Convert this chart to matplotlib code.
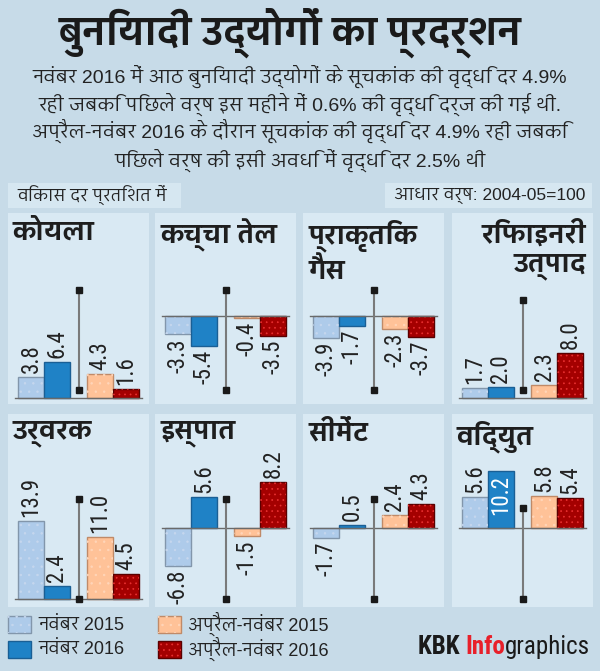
import matplotlib
matplotlib.use('Agg')
import matplotlib.pyplot as plt
from matplotlib import font_manager as fm
from matplotlib.ft2font import FT2Font
from matplotlib.patches import Rectangle

# ---------------- data ----------------
industries = ['कोयला', 'कच्चा तेल', 'प्राकृतिक\nगैस', 'रिफाइनरी\nउत्पाद',
              'उर्वरक', 'इस्पात', 'सीमेंट', 'विद्युत']
series_names = ['नवंबर 2015', 'नवंबर 2016', 'अप्रैल-नवंबर 2015', 'अप्रैल-नवंबर 2016']
nov2015 = [3.8, -3.3, -3.9, 1.7, 13.9, -6.8, -1.7, 5.6]
nov2016 = [6.4, -5.4, -1.7, 2.0, 2.4, 5.6, 0.5, 10.2]
aprnov2015 = [4.3, -0.4, -2.3, 2.3, 11.0, -1.5, 2.4, 5.8]
aprnov2016 = [1.6, -3.5, -3.7, 8.0, 4.5, 8.2, 4.3, 5.4]
title = 'बुनियादी उद्योगों का प्रदर्शन'
subtitle = ['नवंबर 2016 में आठ बुनियादी उद्योगों के सूचकांक की वृद्धि दर 4.9%',
            'रही जबकि पिछले वर्ष इस महीने में 0.6% की वृद्धि दर्ज की गई थी.',
            'अप्रैल-नवंबर 2016 के दौरान सूचकांक की वृद्धि दर 4.9% रही जबकि',
            'पिछले वर्ष की इसी अवधि में वृद्धि दर 2.5% थी']
unit_note = 'विकास दर प्रतिशत में'
base_note = 'आधार वर्ष: 2004-05=100'

# ---------------- fonts ----------------
available = {f.name for f in fm.fontManager.ttflist}


def find_deva():
    found = {}
    seen = set()
    for f in fm.fontManager.ttflist:
        if f.fname in seen:
            continue
        seen.add(f.fname)
        try:
            cm = FT2Font(f.fname).get_charmap()
        except Exception:
            continue
        if 0x0915 in cm:
            found.setdefault(f.name, 0)
    if not found:
        return None
    names = sorted(found, key=lambda n: (0 if 'Devanagari' in n else 1,
                                         0 if 'Sans' in n else 1,
                                         0 if 'UI' not in n else 1, n))
    return names[0]


DEVA = find_deva()
NARROW = next((n for n in ['Liberation Sans Narrow', 'Roboto Condensed', 'Liberation Sans']
               if n in available), 'DejaVu Sans')
LATIN = 'Liberation Sans' if 'Liberation Sans' in available else 'DejaVu Sans'


def fam(latin=LATIN):
    lst = [latin]
    if DEVA:
        lst.append(DEVA)
    lst.append('DejaVu Sans')
    return lst


# ---------------- style ----------------
BG = '#c7dbe8'
PANEL = '#d9e9f3'
BOX = '#d6e7f1'
TXT = '#222222'
face = ['#aecbea', '#1f82c6', '#ffc298', '#a40000']
edge = ['#8296ab', '#1a5f95', '#c08a68', '#5a0000']
hatchc = ['#c6d7ee', '#1f82c6', '#ffd6ba', '#e83030']
hatches = ['..', None, '..', '...']
plt.rcParams['hatch.linewidth'] = 0.5

W, H = 600, 671
fig = plt.figure(figsize=(W / 100, H / 100), dpi=100)
fig.patch.set_facecolor(BG)
bg = fig.add_axes([0, 0, 1, 1])
bg.set_xlim(0, W)
bg.set_ylim(H, 0)
bg.axis('off')

# title and subtitle
bg.text(290, 33, title, ha='center', va='center', fontsize=27, weight='bold',
        family=fam(), color='#1a1a1a')
for i, line in enumerate(subtitle):
    bg.text(300, 76 + 28 * i, line, ha='center', va='center', fontsize=14,
            family=fam(), color=TXT)

# notes boxes
bg.add_patch(Rectangle((8, 183), 173, 25, facecolor=BOX, edgecolor='none'))
bg.text(17, 196, unit_note, ha='left', va='center', fontsize=12.5, family=fam(), color=TXT)
bg.add_patch(Rectangle((385, 183), 207, 25, facecolor=BOX, edgecolor='none'))
bg.text(585, 196, base_note, ha='right', va='center', fontsize=12.5, family=fam(), color=TXT)

# panel layout (pixels)
col_x = [8, 155, 303, 452]
row_y = [213, 414]
row_h = [191, 193]
PW = 141
SCALE = 5.6                       # pixels per percentage point
baseline_px = [398, 316, 316, 398, 599, 528, 528, 528]
divider_top_px = [290, 290, 290, 300, 499, 499, 499, 508]
divider_bot_px = [390, 390, 390, 390, 599, 599, 599, 599]
title_right = [False, False, False, True, False, False, False, False]
bar_x = [23, 49, 92, 118]
BW = 26
DIV_X = 71
inside_labels = {(7, 1)}
LABEL_FS = 16.5

values = [nov2015, nov2016, aprnov2015, aprnov2016]

for p in range(8):
    r, c = divmod(p, 4)
    x0, y0, h = col_x[c], row_y[r], row_h[r]
    bg.add_patch(Rectangle((x0, y0), PW, h, facecolor=PANEL, edgecolor='none'))
    # panel title
    if title_right[p]:
        bg.text(x0 + PW - 7, y0 + 6, industries[p], ha='right', va='top', fontsize=19,
                weight='bold', family=fam(), color='#1e1e1e', linespacing=1.25,
                multialignment='right')
    else:
        bg.text(x0 + 5, y0 + 6, industries[p], ha='left', va='top', fontsize=19,
                weight='bold', family=fam(), color='#1e1e1e', linespacing=1.25)

    ax = fig.add_axes([x0 / W, 1 - (y0 + h) / H, PW / W, h / H])
    ax.set_facecolor('none')
    ax.set_xlim(0, PW)
    off = (y0 + h) - baseline_px[p]
    ymin = -off / SCALE
    ax.set_ylim(ymin, ymin + h / SCALE)
    ax.axis('off')

    for s in range(4):
        v = values[s][p]
        ax.bar(bar_x[s], v, BW, color=face[s], edgecolor=edge[s], linewidth=1, zorder=2)
        if hatches[s]:
            ax.bar(bar_x[s], v, BW, fill=False, hatch=hatches[s], edgecolor=hatchc[s],
                   linewidth=0, zorder=2.5)
        pad = 4 / SCALE
        lab = f'{v:.1f}'
        lf = [NARROW, 'DejaVu Sans']
        if (p, s) in inside_labels:
            ax.text(bar_x[s], v - pad, lab, rotation=90, ha='center', va='top',
                    fontsize=LABEL_FS, family=lf, color='white', zorder=4)
        elif v >= 0:
            ax.text(bar_x[s], v + pad, lab, rotation=90, ha='center', va='bottom',
                    fontsize=LABEL_FS, family=lf, color=TXT, zorder=4)
        else:
            ax.text(bar_x[s], v - pad, lab, rotation=90, ha='center', va='top',
                    fontsize=LABEL_FS, family=lf, color=TXT, zorder=4)

    ax.plot([7, 134], [0, 0], color='#6a6a6a', lw=1, zorder=3)
    yt = (baseline_px[p] - divider_top_px[p]) / SCALE
    yb = (baseline_px[p] - divider_bot_px[p]) / SCALE
    ax.plot([DIV_X, DIV_X], [yt, yb], color='#7a7a7a', lw=1.5, zorder=3)
    ax.plot([DIV_X, DIV_X], [yt, yb], ls='none', marker='s', ms=5, color='#1a1a1a', zorder=3.5)

# legend
leg_pos = [(8, 616), (8, 641), (158, 616), (158, 641)]
for s in range(4):
    lx, ly = leg_pos[s]
    bg.add_patch(Rectangle((lx, ly), 23, 17, facecolor=face[s], edgecolor=edge[s], lw=1))
    if hatches[s]:
        bg.add_patch(Rectangle((lx, ly), 23, 17, fill=False, hatch=hatches[s],
                               edgecolor=hatchc[s], lw=0))
    bg.text(lx + 30, ly + 9, series_names[s], ha='left', va='center', fontsize=13,
            family=fam(), color=TXT)

# KBK Infographics credit
renderer = fig.canvas.get_renderer()
parts = [('graphics', '#1a1a1a', 'normal'), ('Info', '#e8202a', 'bold'), ('KBK ', '#1a1a1a', 'bold')]
xr = 590
for txt, col, wt in parts:
    t = bg.text(xr, 647, txt, ha='right', va='center', fontsize=18, family=[NARROW],
                weight=wt, color=col)
    bb = t.get_window_extent(renderer)
    xr -= bb.width * (W / fig.bbox.width)

fig.savefig('out.png', dpi=100, facecolor=BG)
